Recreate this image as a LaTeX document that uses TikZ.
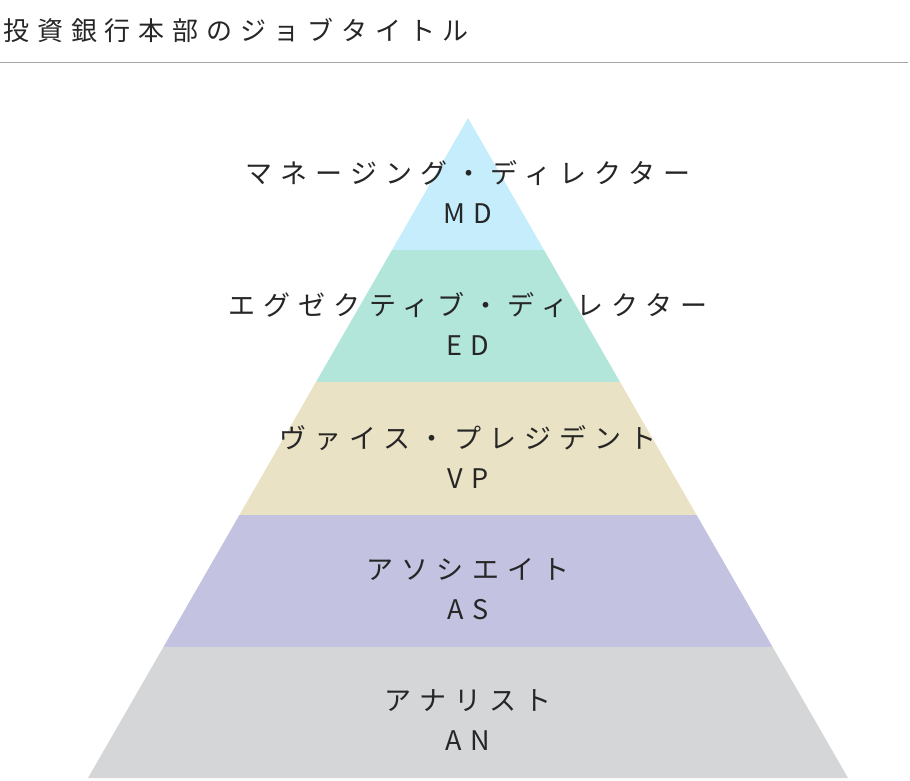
\documentclass[tikz,border=0pt]{standalone}
\usepackage{fontspec}
\usepackage{tikz}
\usetikzlibrary{calc}
\newfontfamily\jpfont[LetterSpace=30]{Noto Sans CJK JP}
\definecolor{mdcol}{HTML}{C5EDFB}
\definecolor{edcol}{HTML}{B3E6DA}
\definecolor{vpcol}{HTML}{EAE2C4}
\definecolor{ascol}{HTML}{C3C3E1}
\definecolor{ancol}{HTML}{D5D6D8}
\tikzset{
	bandtext/.style={align=center, font=\jpfont\fontsize{27}{40}\selectfont, text=black!85},
}
\begin{document}
\begin{tikzpicture}[x=1pt, y=-1pt]
	\useasboundingbox (0,0) rectangle (910,780);
	\node[anchor=west, font=\jpfont\fontsize{26}{30}\selectfont, text=black!85] (title) at (0,30) {投資銀行本部のジョブタイトル};
	\draw[black!35, line width=1pt] (0,62) -- (908,62);
	\foreach \yTop/\yBot/\bandColor/\bandName/\bandAbbr in {118/250/mdcol/マネージング・ディレクター/MD, 250/382/edcol/エグゼクティブ・ディレクター/ED, 382/515/vpcol/ヴァイス・プレジデント/VP, 515/647/ascol/アソシエイト/AS, 647/778/ancol/アナリスト/AN}
	{
		\fill[\bandColor] ({468-(\yTop-118)*0.5758}, \yTop) -- ({468+(\yTop-118)*0.5758}, \yTop) -- ({468+(\yBot-118)*0.5758}, \yBot) -- ({468-(\yBot-118)*0.5758}, \yBot) -- cycle;
		\node[bandtext] (\bandAbbr) at (468, {\yBot-58}) {\bandName\\\bandAbbr};
	}
\end{tikzpicture}
\end{document}
